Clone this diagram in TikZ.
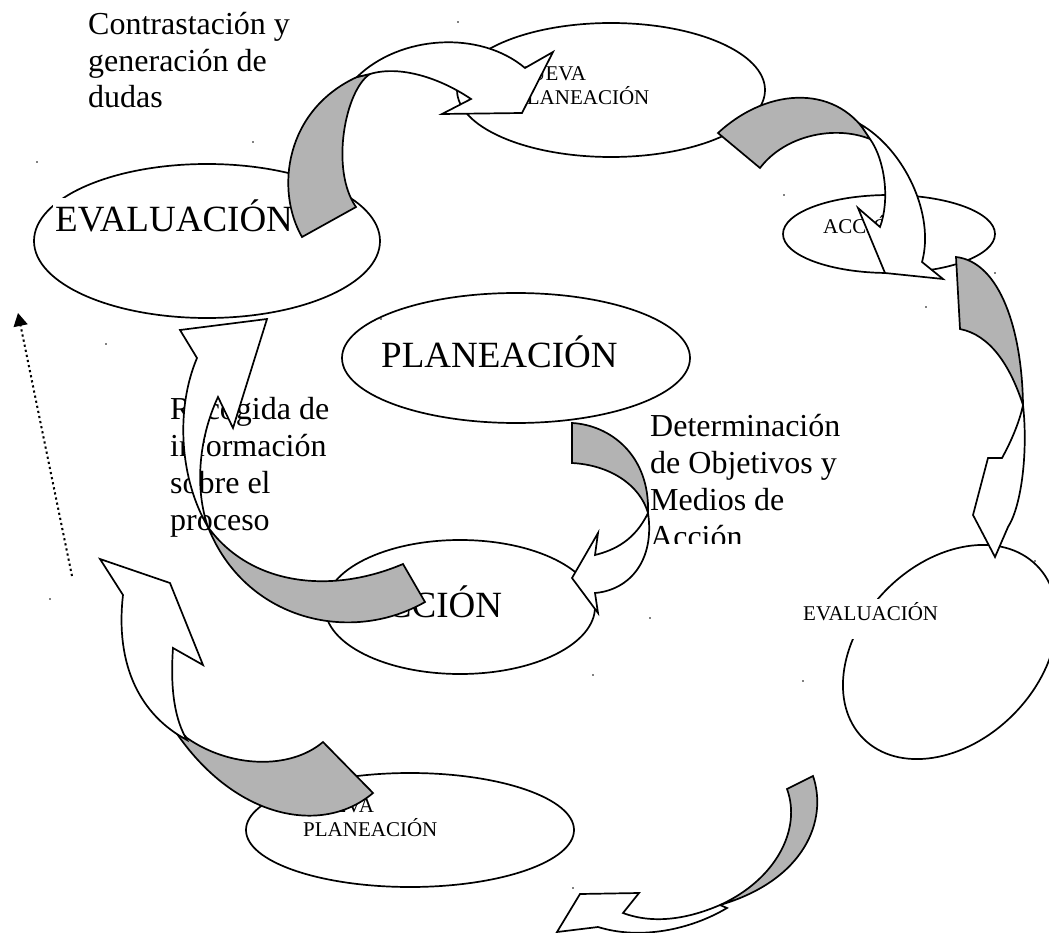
\documentclass[tikz,border=0pt]{standalone}
\usepackage{fontspec}
\setmainfont{Liberation Serif}
\usetikzlibrary{shapes.geometric,arrows.meta}
\definecolor{ribbon}{RGB}{179,179,179}
\begin{document}
\begin{tikzpicture}[x=1pt,y=-1pt,
  oval/.style={draw=black,line width=1.7pt,ellipse,fill=white,inner sep=0pt},
  back/.style={draw=black,line width=1.7pt,fill=ribbon,line join=miter},
  front/.style={draw=black,line width=1.7pt,fill=white,line join=miter},
  big/.style={font=\fontsize{37}{42}\selectfont,inner sep=0pt},
  small/.style={font=\fontsize{21}{24}\selectfont,inner sep=0pt,align=left},
  note/.style={font=\fontsize{32}{36.7}\selectfont,inner sep=0pt,align=left},
  speck/.style={fill=black},
  dotarrow/.style={line width=2pt,dash pattern=on 2.2pt off 3pt,-{Triangle[length=13pt,width=14pt]}}]
\useasboundingbox[fill=white] (0,0) rectangle (1049,933);

% ellipses
\node[oval,minimum width=346pt,minimum height=154pt] (ev1) at (207,241) {};
\node[oval,minimum width=308pt,minimum height=134pt] (np1) at (611,90) {};
\node[oval,minimum width=348pt,minimum height=130pt] (pl) at (516,358) {};
\node[oval,minimum width=270pt,minimum height=134pt] (ac1) at (460,607) {};
\node[oval,minimum width=212pt,minimum height=78pt] (ac2) at (889,234) {};
\node[oval,minimum width=245pt,minimum height=178pt,rotate=45] (ev2) at (950,652) {};
\node[oval,minimum width=328pt,minimum height=114pt] (np2) at (410,830) {};

% labels (multi-line nodes are anchored at the baseline of their last line)
\node[big,anchor=base west,fill=white,inner sep=2pt] (l1) at (53,232) {EVALUACIÓN};
\node[big,anchor=base west] (l2) at (381,367) {PLANEACIÓN};
\node[big,anchor=base west] (l3) at (360,617) {ACCIÓN};
\node[small,anchor=base west] (l4) at (515,105) {NUEVA\\PLANEACIÓN};
\node[small,anchor=base west] (l5) at (823,234) {ACCIÓN};
\node[small,anchor=base west,fill=white,inner xsep=3pt,inner ysep=2pt,text height=19pt,text depth=17pt] (l6) at (800,620) {EVALUACIÓN};
\node[small,anchor=base west] (l7) at (303,836) {NUEVA\\PLANEACIÓN};

% notes
\node[note,anchor=base west] (t1) at (88,108) {Contrastación y\\generación de\\dudas};
\node[note,anchor=base west] (t2) at (170,530) {Recogida de\\información\\sobre el\\proceso};
\begin{scope}
\clip (640,395) rectangle (900,543);
\node[note,anchor=base west] (t3) at (650,547) {Determinación\\de Objetivos y\\Medios de\\Acción};
\end{scope}

% arrow A
\path[back] (302,237) .. controls (275,190) and (285,110) .. (357,77) -- (370,74) .. controls (345,90) and (330,170) .. (356,207) -- cycle;
\path[front] (357,77) .. controls (400,35) and (480,30) .. (525,68) -- (553,52) -- (522,113) -- (442,114) -- (471,99) .. controls (440,78) and (400,65) .. (370,74) -- cycle;
% arrow B
\path[back] (718,133) .. controls (770,85) and (840,85) .. (870,139) .. controls (835,125) and (785,135) .. (760,168) -- cycle;
\path[front] (860,124) .. controls (905,150) and (935,215) .. (922,262) -- (943,279) -- (885,273) -- (858,208) -- (880,227) .. controls (890,200) and (885,160) .. (870,139) -- cycle;
% arrow C
\path[back] (956,257) .. controls (1000,262) and (1022,330) .. (1023,405) .. controls (1010,365) and (990,335) .. (960,329) -- cycle;
\path[front] (1023,405) .. controls (1028,450) and (1022,505) .. (1008,527) -- (995,557) -- (973,515) -- (988,458) -- (1002,458) .. controls (1012,440) and (1020,420) .. (1023,405) -- cycle;
% arrow D
\path[back] (572,423) .. controls (610,425) and (650,455) .. (648,513) .. controls (640,485) and (610,465) .. (572,463) -- cycle;
\path[front] (648,513) .. controls (635,540) and (615,550) .. (595,555) -- (598,533) -- (572,578) -- (598,613) -- (595,593) .. controls (630,590) and (655,560) .. (648,513) -- cycle;
% arrow E
\path[front] (197,358) -- (180,330) -- (267,319) -- (233,428) -- (218,397) .. controls (198,440) and (195,490) .. (208,527) .. controls (180,480) and (175,410) .. (197,358) -- cycle;
\path[back] (208,527) .. controls (250,585) and (330,595) .. (403,564) -- (425,602) .. controls (350,645) and (245,620) .. (208,527) -- cycle;
% arrow F
\path[back] (187,738) .. controls (230,768) and (290,770) .. (323,742) -- (373,793) .. controls (320,838) and (225,818) .. (165,715) -- cycle;
\path[front] (123,595) -- (100,559) -- (170,583) -- (203,665) -- (173,648) .. controls (170,690) and (175,720) .. (187,740) .. controls (140,715) and (115,665) .. (123,595) -- cycle;
% arrow G
\path[back] (787,789) -- (813,776) .. controls (828,820) and (805,880) .. (720,905) .. controls (775,880) and (802,830) .. (787,789) -- cycle;
\path[front] (720,905) .. controls (690,918) and (655,925) .. (623,913) -- (639,893) -- (580,894) -- (557,932) -- (598,927) .. controls (640,940) and (690,930) .. (727,908) -- cycle;

% dotted arrow
\coordinate (d0) at (72,576);
\coordinate (d1) at (18,313);
\draw[dotarrow] (d0) -- (d1);

% specks
\foreach \p in {(458,22),(37,162),(106,344),(50,599),(381,319),(784,195),(926,307),(995,273),(1035,561),(803,681),(650,618),(573,888),(593,675),(253,142)}
  \fill[speck] \p circle (0.9pt);
\end{tikzpicture}
\end{document}
